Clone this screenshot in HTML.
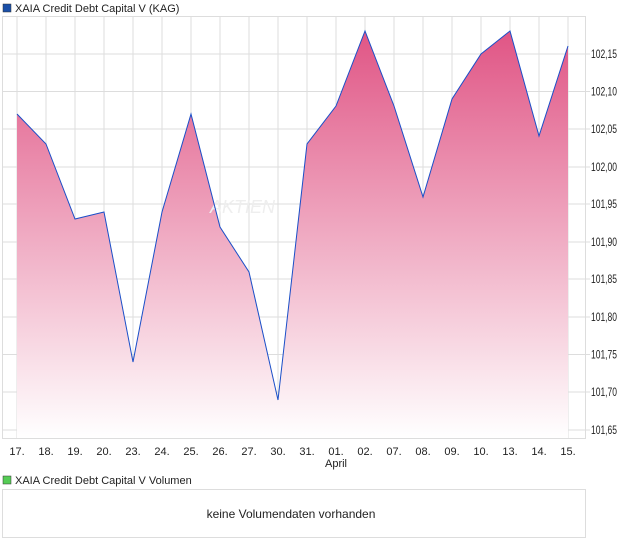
<!DOCTYPE html><html><head><style>body{margin:0;background:#fff;width:620px;height:546px;overflow:hidden;font-family:"Liberation Sans",sans-serif}</style></head><body>
<svg width="620" height="546" xmlns="http://www.w3.org/2000/svg" font-family="Liberation Sans, sans-serif">
<defs><linearGradient id="g2" x1="0" y1="31" x2="0" y2="438" gradientUnits="userSpaceOnUse"><stop offset="0" stop-color="#e05585"/><stop offset="1" stop-color="#fff"/></linearGradient></defs>
<rect x="3" y="4" width="8" height="8" fill="#1a4fa8" stroke="#333" stroke-width="0.5"/>
<text x="15" y="12" font-size="11" fill="#222">XAIA Credit Debt Capital V (KAG)</text>
<rect x="2.5" y="16.5" width="583" height="422" fill="#fff" stroke="#ddd"/>
<g stroke="#ddd" stroke-width="1">
<path d="M17 17V438M46 17V438M75 17V438M104 17V438M133 17V438M162 17V438M191 17V438M220 17V438M249 17V438M278 17V438M307 17V438M336 17V438M365 17V438M394 17V438M423 17V438M452 17V438M481 17V438M510 17V438M539 17V438M568 17V438"/>
<path d="M3 54H590M3 91.5H590M3 129H590M3 167H590M3 204H590M3 242H590M3 279H590M3 317H590M3 354.5H590M3 392H590M3 430H590"/>
</g>
<path d="M17,114 L46,144 L75,219 L104,212 L133,362 L162,212 L191,114 L220,227 L249,272 L278,400 L307,144 L336,106 L365,31 L394,106 L423,197 L452,99 L481,54 L510,31 L539,136 L568,46 L568,438 L17,438Z" fill="url(#g2)"/>
<text x="210" y="213" font-size="18" fill="#eee" font-style="italic">AKTIEN</text>
<path d="M17,114 L46,144 L75,219 L104,212 L133,362 L162,212 L191,114 L220,227 L249,272 L278,400 L307,144 L336,106 L365,31 L394,106 L423,197 L452,99 L481,54 L510,31 L539,136 L568,46" fill="none" stroke="#1a4fc8" stroke-width="1"/>
<g font-size="12" fill="#222">
<text x="591" y="58" textLength="26" lengthAdjust="spacingAndGlyphs">102,15</text><text x="591" y="95.5" textLength="26" lengthAdjust="spacingAndGlyphs">102,10</text><text x="591" y="133" textLength="26" lengthAdjust="spacingAndGlyphs">102,05</text><text x="591" y="171" textLength="26" lengthAdjust="spacingAndGlyphs">102,00</text><text x="591" y="208" textLength="26" lengthAdjust="spacingAndGlyphs">101,95</text><text x="591" y="246" textLength="26" lengthAdjust="spacingAndGlyphs">101,90</text><text x="591" y="283" textLength="26" lengthAdjust="spacingAndGlyphs">101,85</text><text x="591" y="321" textLength="26" lengthAdjust="spacingAndGlyphs">101,80</text><text x="591" y="358.5" textLength="26" lengthAdjust="spacingAndGlyphs">101,75</text><text x="591" y="396" textLength="26" lengthAdjust="spacingAndGlyphs">101,70</text><text x="591" y="434" textLength="26" lengthAdjust="spacingAndGlyphs">101,65</text>
</g>
<g font-size="11" fill="#222" text-anchor="middle">
<text x="17" y="455">17.</text><text x="46" y="455">18.</text><text x="75" y="455">19.</text><text x="104" y="455">20.</text><text x="133" y="455">23.</text><text x="162" y="455">24.</text><text x="191" y="455">25.</text><text x="220" y="455">26.</text><text x="249" y="455">27.</text><text x="278" y="455">30.</text><text x="307" y="455">31.</text><text x="336" y="455">01.</text><text x="365" y="455">02.</text><text x="394" y="455">07.</text><text x="423" y="455">08.</text><text x="452" y="455">09.</text><text x="481" y="455">10.</text><text x="510" y="455">13.</text><text x="539" y="455">14.</text><text x="568" y="455">15.</text>
<text x="336" y="467">April</text>
</g>
<rect x="3" y="476" width="8" height="8" fill="#5c5" stroke="#333" stroke-width="0.5"/>
<text x="15" y="484" font-size="11" fill="#222">XAIA Credit Debt Capital V Volumen</text>
<rect x="2.5" y="489.5" width="583" height="48" fill="#fff" stroke="#ddd"/>
<text x="291" y="518" font-size="12" fill="#222" text-anchor="middle">keine Volumendaten vorhanden</text>
</svg></body></html>
